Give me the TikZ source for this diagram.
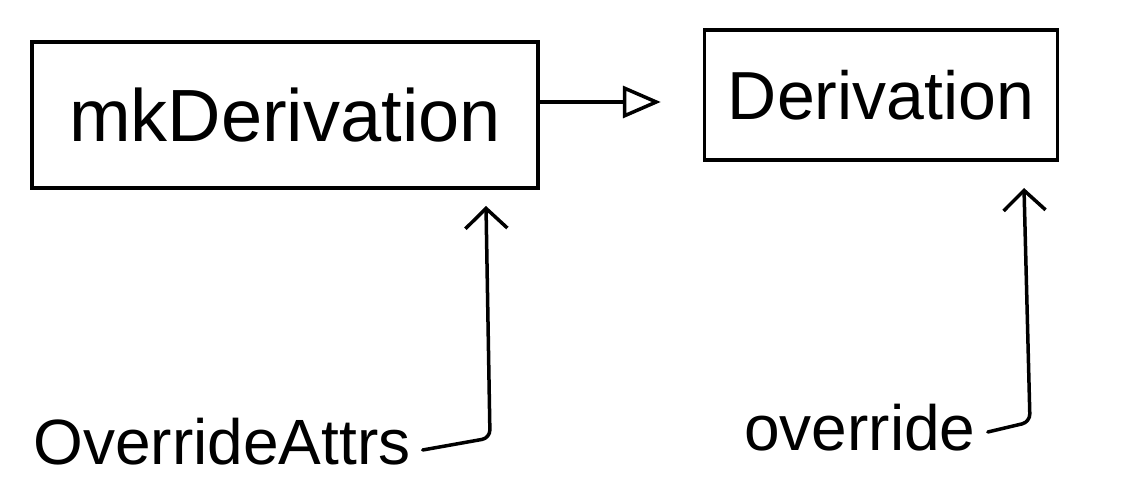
\documentclass[tikz,border=0pt]{standalone}
\usepackage{fontspec}
\setmainfont{Liberation Sans}
\usetikzlibrary{arrows.meta}
\tikzset{
  sketchbox/.style={draw, line width=3.5pt, inner sep=0pt},
  label/.style={inner sep=0pt, font=\fontsize{64}{76}\selectfont},
  link/.style={line width=3.5pt, line join=round, line cap=round},
  chev/.style={link, -{Straight Barb[length=20pt,width=42pt,line width=3.5pt]}},
  tri/.style={link, -{Triangle[open,length=38pt,width=32pt,line width=3.5pt]}}
}
\begin{document}
\begin{tikzpicture}[x=1pt,y=1pt]
\useasboundingbox[fill=white] (0,0) rectangle (1128,498);
\node[sketchbox, minimum width=506pt, minimum height=146pt, font=\fontsize{74}{86}\selectfont] (mk) at (285,383) {mkDerivation};
\node[sketchbox, minimum width=353pt, minimum height=130pt, font=\fontsize{68}{80}\selectfont] (der) at (881,403) {Derivation};
\node[label] (oa) at (222,56) {OverrideAttrs};
\node[label] (ov) at (860,70) {override};
\coordinate (t1) at (486,292);
\coordinate (t2) at (1024,310);
\draw[tri, shorten >=42pt] ([yshift=13pt]mk.east) -- ([yshift=13pt]mk.east -| der.west);
\draw[chev, rounded corners=8pt] ([xshift=12pt,yshift=-8pt]oa.east) -- (490,60) -- (t1);
\draw[chev, rounded corners=8pt] ([xshift=12pt,yshift=-4pt]ov.east) -- (1030,76) -- (t2);
\end{tikzpicture}
\end{document}
